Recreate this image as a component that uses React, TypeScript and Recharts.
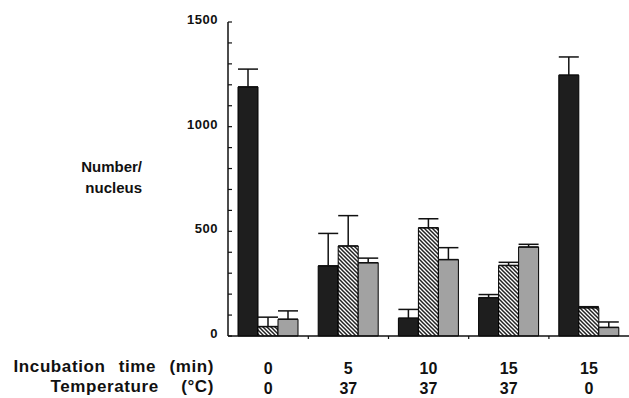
import { BarChart, Bar, XAxis, YAxis, ErrorBar } from 'recharts';

const times = ['0', '5', '10', '15', '15'];
const temps = ['0', '37', '37', '37', '0'];

const blackValues = [1190, 335, 85, 183, 1246];
const blackErrors = [85, 155, 42, 15, 87];
const hatchValues = [45, 430, 517, 337, 135];
const hatchErrors = [45, 145, 43, 15, 5];
const grayValues = [80, 350, 365, 425, 41];
const grayErrors = [40, 22, 57, 13, 26];

const yTicks = [0, 100, 200, 300, 400, 500, 600, 700, 800, 900, 1000, 1100, 1200, 1300, 1400, 1500];

const data = times.map((t, i) => ({
  group: `${t}/${temps[i]}`,
  time: t,
  temp: temps[i],
  black: blackValues[i],
  blackErr: [0, blackErrors[i]],
  hatch: hatchValues[i],
  hatchErr: [0, hatchErrors[i]],
  gray: grayValues[i],
  grayErr: [0, grayErrors[i]],
}));

const FONT = '"Liberation Sans", Arial, Helvetica, sans-serif';

const YTick = (props: any) => {
  const { x, y, payload } = props;
  const v = payload.value;
  return (
    <g>
      <line x1={x} x2={x + 4} y1={y} y2={y} stroke="#111" strokeWidth={1.2} />
      {v % 500 === 0 && (
        <text
          x={x - 10}
          y={y}
          dy={2}
          textAnchor="end"
          fontFamily={FONT}
          fontWeight="bold"
          fontSize={13}
          letterSpacing={0.5}
          fill="#111"
        >
          {v}
        </text>
      )}
    </g>
  );
};

const XTick = (props: any) => {
  const { x, y, index } = props;
  const d = data[index];
  return (
    <g>
      {index > 0 && <line x1={x - 40} x2={x - 40} y1={y} y2={y + 3} stroke="#111" strokeWidth={1.2} />}
      <text x={x} y={y + 38} textAnchor="middle" fontFamily={FONT} fontWeight="bold" fontSize={16} fill="#111">
        {d.time}
      </text>
      <text x={x} y={y + 58} textAnchor="middle" fontFamily={FONT} fontWeight="bold" fontSize={16} fill="#111">
        {d.temp}
      </text>
    </g>
  );
};

const labelStyle: React.CSSProperties = {
  position: 'absolute',
  fontFamily: FONT,
  fontWeight: 'bold',
  color: '#111',
  textAlign: 'right',
  whiteSpace: 'nowrap',
};

export default function App() {
  return (
    <div style={{ position: 'absolute', left: 0, top: 0, width: 629, height: 398, background: '#fff' }}>
      <BarChart
        width={629}
        height={398}
        data={data}
        margin={{ top: 22, right: 0, bottom: 2, left: 0 }}
        barGap={0}
        barCategoryGap={10}
      >
        <defs>
          <pattern id="hatch" patternUnits="userSpaceOnUse" width={4} height={4}>
            <rect width={4} height={4} fill="#fff" />
            <path d="M-1,-1 L5,5 M-1,3 L1,5 M3,-1 L5,1" stroke="#222" strokeWidth={1.5} />
          </pattern>
        </defs>
        <XAxis
          dataKey="group"
          height={60}
          axisLine={{ stroke: '#111', strokeWidth: 1.5 }}
          tickLine={false}
          tickSize={0}
          tickMargin={0}
          tick={<XTick />}
          interval={0}
        />
        <YAxis
          width={228}
          domain={[0, 1500]}
          ticks={yTicks}
          interval={0}
          axisLine={{ stroke: '#111', strokeWidth: 1.5 }}
          tickLine={false}
          tickSize={0}
          tickMargin={0}
          tick={<YTick />}
        />
        <Bar dataKey="black" barSize={20} fill="#1e1e1e" stroke="#000" strokeWidth={1} isAnimationActive={false}>
          <ErrorBar dataKey="blackErr" width={10} stroke="#111" strokeWidth={1.5} />
        </Bar>
        <Bar dataKey="hatch" barSize={20} fill="url(#hatch)" stroke="#000" strokeWidth={1} isAnimationActive={false}>
          <ErrorBar dataKey="hatchErr" width={10} stroke="#111" strokeWidth={1.5} />
        </Bar>
        <Bar dataKey="gray" barSize={20} fill="#a2a2a2" stroke="#000" strokeWidth={1} isAnimationActive={false}>
          <ErrorBar dataKey="grayErr" width={10} stroke="#111" strokeWidth={1.5} />
        </Bar>
      </BarChart>
      <div style={{ ...labelStyle, fontSize: 15, right: 629 - 142, top: 156, lineHeight: '21px' }}>
        Number/
        <br />
        nucleus
      </div>
      <div
        style={{ ...labelStyle, fontSize: 17, right: 629 - 214, top: 357, letterSpacing: 0.6, wordSpacing: 8 }}
      >
        Incubation time (min)
      </div>
      <div
        style={{ ...labelStyle, fontSize: 17, right: 629 - 214, top: 377, letterSpacing: 0.6, wordSpacing: 17 }}
      >
        Temperature (°C)
      </div>
    </div>
  );
}
